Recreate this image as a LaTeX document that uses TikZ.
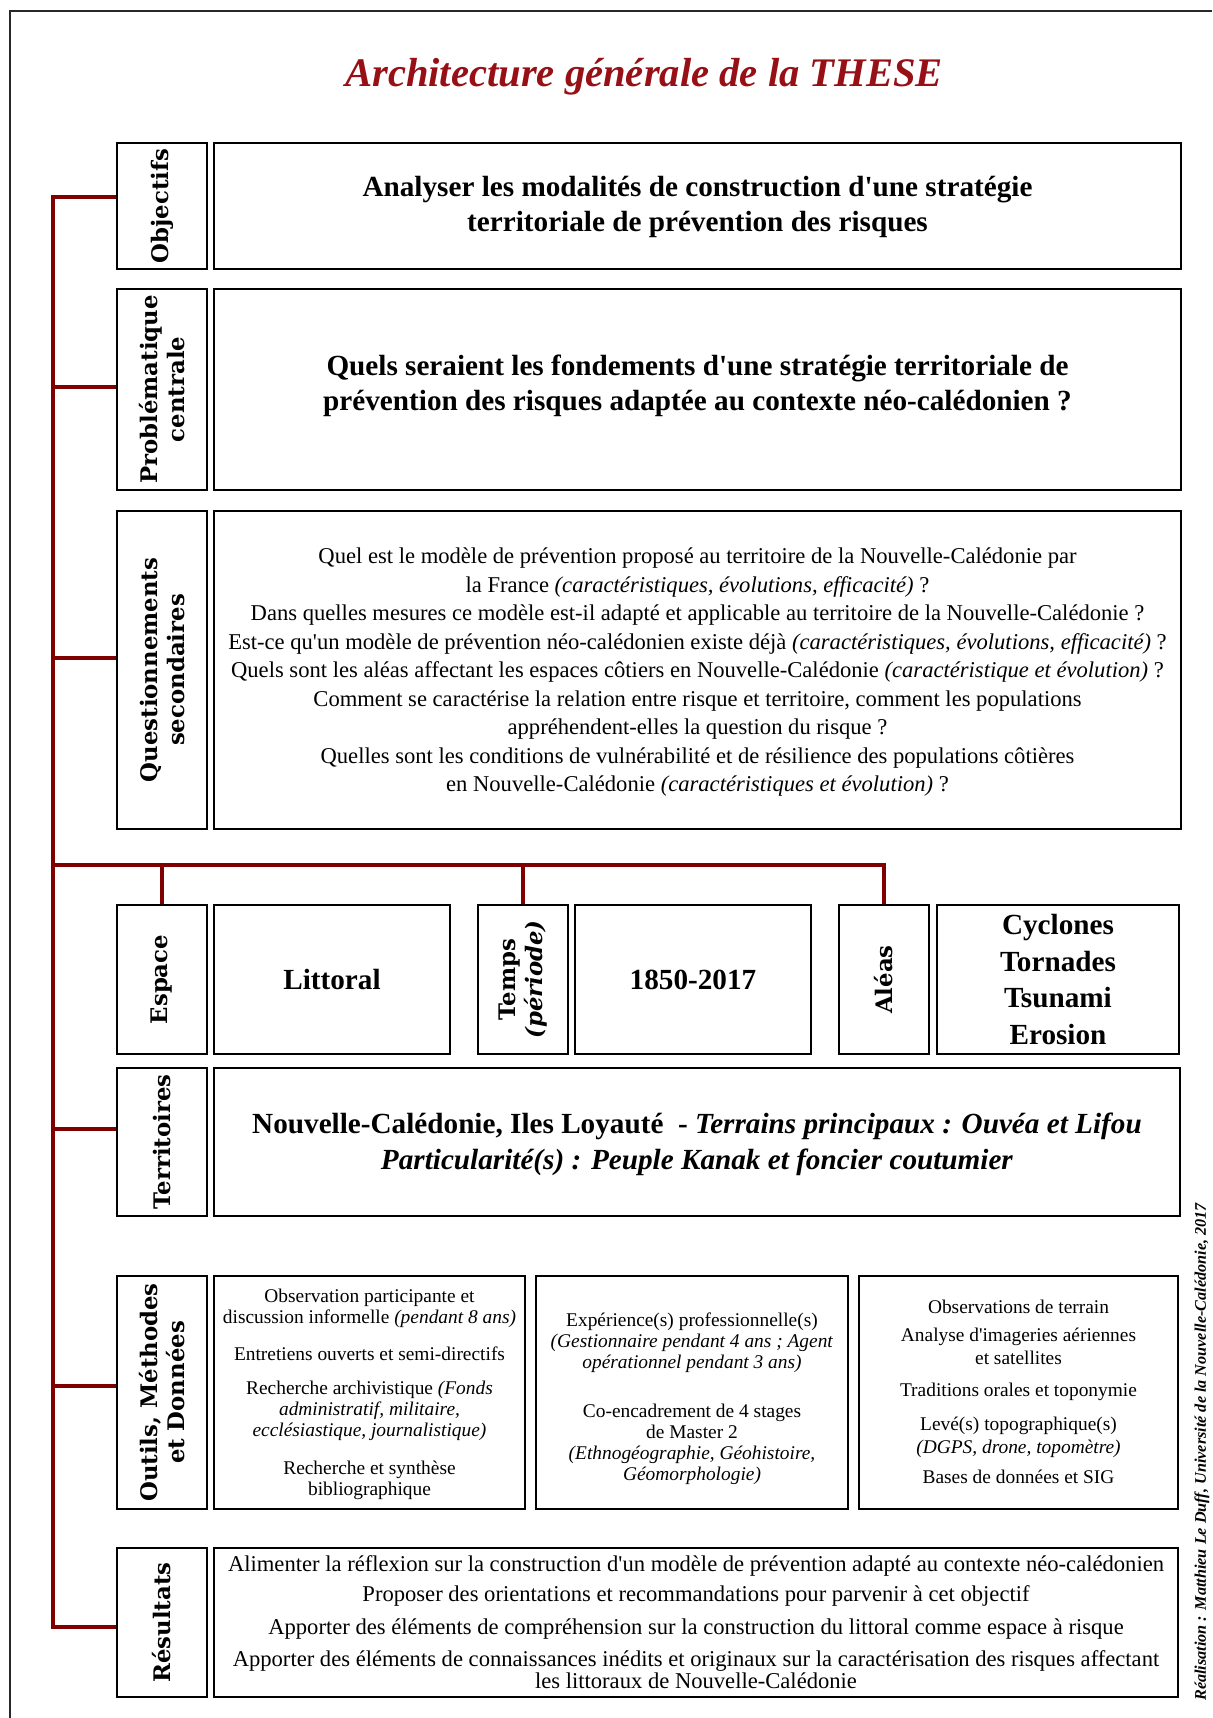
\documentclass[tikz,border=0pt]{standalone}
\usepackage{fontspec}
\setmainfont{Liberation Serif}[Ligatures=TeXOff]
\newfontfamily\labfont{DejaVu Serif}
\usetikzlibrary{fit}
\definecolor{maroonline}{RGB}{128,0,0}
\definecolor{titlered}{RGB}{150,16,22}
\definecolor{framegray}{RGB}{40,40,40}
\begin{document}
\begin{tikzpicture}[x=0.5pt,y=-0.5pt,
  box/.style={draw=black, line width=1.15pt, inner sep=0pt},
  txt/.style={align=center, inner sep=0pt},
  lab/.style={rotate=90, font=\labfont\bfseries\fontsize{11.4}{13.5}\selectfont, align=center, inner sep=0pt},
  conn/.style={draw=maroonline, line width=2pt},
  bigb/.style={font=\bfseries\fontsize{14.6}{17.5}\selectfont},
]
\useasboundingbox (0,0) rectangle (1212,1718);
\draw[framegray, line width=1pt] (10,1718) -- (10,11) -- (1212,11);

\node[anchor=base, text=titlered, font=\bfseries\itshape\fontsize{20.3}{24}\selectfont] (title) at (644,87) {Architecture générale de la THESE};

% Objectifs
\node[box, fit={(117,143) (207,269)}] (lObj) {};
\node[lab] (tObj) at (lObj.center) {Objectifs};
\node[box, fit={(214,143) (1181,269)}] (mObj) {};
\node[txt, bigb, yshift=-0.55pt] (xObj) at (mObj.center) {Analyser les modalités de construction d'une stratégie\\territoriale de prévention des risques};

% Problematique
\node[box, fit={(117,289) (207,490)}] (lPro) {};
\node[lab] (tPro) at (lPro.center) {Problématique\\centrale};
\node[box, fit={(214,289) (1181,490)}] (mPro) {};
\node[txt, bigb, yshift=1.9pt] (xPro) at (mPro.center) {Quels seraient les fondements d'une stratégie territoriale de\\prévention des risques adaptée au contexte néo-calédonien ?};

% Questionnements
\node[box, fit={(117,511) (207,829)}] (lQue) {};
\node[lab] (tQue) at (lQue.center) {Questionnements\\secondaires};
\node[box, fit={(214,511) (1181,829)}] (mQue) {};
\node[txt, font=\fontsize{11.3}{14.25}\selectfont, yshift=-1.1pt] (xQue) at (mQue.center) {Quel est le modèle de prévention proposé au territoire de la Nouvelle-Calédonie par\\
la France \textit{(caractéristiques, évolutions, efficacité)} ?\\
Dans quelles mesures ce modèle est-il adapté et applicable au territoire de la Nouvelle-Calédonie ?\\
Est-ce qu'un modèle de prévention néo-calédonien existe déjà \textit{(caractéristiques, évolutions, efficacité)} ?\\
Quels sont les aléas affectant les espaces côtiers en Nouvelle-Calédonie \textit{(caractéristique et évolution)} ?\\
Comment se caractérise la relation entre risque et territoire, comment les populations\\
appréhendent-elles la question du risque ?\\
Quelles sont les conditions de vulnérabilité et de résilience des populations côtières\\
en Nouvelle-Calédonie \textit{(caractéristiques et évolution)} ?};

% Middle row
\node[box, fit={(117,905) (207,1054)}] (lEsp) {};
\node[lab] (tEsp) at (lEsp.center) {Espace};
\node[box, fit={(214,905) (450,1054)}] (mEsp) {};
\node[txt, bigb] (xEsp) at (mEsp.center) {Littoral};
\node[box, fit={(478,905) (568,1054)}] (lTem) {};
\node[lab] (tTem) at (lTem.center) {Temps\\\textit{(période)}};
\node[box, fit={(575,905) (811,1054)}] (mTem) {};
\node[txt, bigb] (xTem) at (mTem.center) {1850-2017};
\node[box, fit={(839,905) (929,1054)}] (lAle) {};
\node[lab] (tAle) at (lAle.center) {Aléas};
\node[box, fit={(937,905) (1179,1054)}] (mAle) {};
\node[txt, font=\bfseries\fontsize{14.6}{18.25}\selectfont] (xAle) at (mAle.center) {Cyclones\\Tornades\\Tsunami\\Erosion};

% Territoires
\node[box, fit={(117,1068) (207,1216)}] (lTer) {};
\node[lab] (tTer) at (lTer.center) {Territoires};
\node[box, fit={(214,1068) (1180,1216)}] (mTer) {};
\node[txt, font=\bfseries\fontsize{14.6}{18}\selectfont, yshift=-1.1pt] (xTer) at (mTer.center) {Nouvelle-Calédonie, Iles Loyauté\ \ - \textit{Terrains principaux : Ouvéa et Lifou}\\\textit{Particularité(s) : Peuple Kanak et foncier coutumier}};

% Outils
\node[box, fit={(117,1276) (207,1509)}] (lOut) {};
\node[lab] (tOut) at (lOut.center) {Outils, Méthodes\\et Données};
\node[box, fit={(214,1276) (525,1509)}] (o1) {};
\node[txt, font=\fontsize{9.7}{10.5}\selectfont, yshift=-0.85pt] (xo1) at (o1.center) {Observation participante et\\discussion informelle \textit{(pendant 8 ans)}\\[8pt]
Entretiens ouverts et semi-directifs\\[6.5pt]
Recherche archivistique \textit{(Fonds}\\\textit{administratif, militaire,}\\\textit{ecclésiastique, journalistique)}\\[8.5pt]
Recherche et synthèse\\bibliographique};
\node[box, fit={(536,1276) (848,1509)}] (o2) {};
\node[txt, font=\fontsize{9.7}{10.5}\selectfont, yshift=-3.2pt] (xo2) at (o2.center) {Expérience(s) professionnelle(s)\\\textit{(Gestionnaire pendant 4 ans ; Agent}\\\textit{opérationnel pendant 3 ans)}\\[14pt]
Co-encadrement de 4 stages\\de Master 2\\\textit{(Ethnogéographie, Géohistoire,}\\\textit{Géomorphologie)}};
\node[box, fit={(859,1276) (1178,1509)}] (o3) {};
\node[txt, font=\fontsize{9.7}{11.5}\selectfont, yshift=0.55pt] (xo3) at (o3.center) {Observations de terrain\\[2.5pt]
Analyse d'imageries aériennes\\et satellites\\[4.5pt]
Traditions orales et toponymie\\[5.5pt]
Levé(s) topographique(s)\\\textit{(DGPS, drone, topomètre)}\\[3.5pt]
Bases de données et SIG};

% Resultats
\node[box, fit={(117,1548) (207,1697)}] (lRes) {};
\node[lab] (tRes) at (lRes.center) {Résultats};
\node[box, fit={(214,1548) (1178,1697)}] (mRes) {};
\node[txt, font=\fontsize{11.3}{11}\selectfont] (xRes) at (mRes.center) {Alimenter la réflexion sur la construction d'un modèle de prévention adapté au contexte néo-calédonien\\[4pt]
Proposer des orientations et recommandations pour parvenir à cet objectif\\[5.25pt]
Apporter des éléments de compréhension sur la construction du littoral comme espace à risque\\[5.25pt]
Apporter des éléments de connaissances inédits et originaux sur la caractérisation des risques affectant\\les littoraux de Nouvelle-Calédonie};

% credit
\node[rotate=90, inner sep=0pt, font=\bfseries\itshape\fontsize{8.1}{9}\selectfont] (credit) at (1202,1452) {Réalisation : Matthieu Le Duff, Université de la Nouvelle-Calédonie, 2017};

% connectors
\coordinate (b1) at (53,196.7);
\coordinate (b2) at (53,386.7);
\coordinate (b3) at (53,658);
\coordinate (bm) at (53,865);
\coordinate (b4) at (53,1129);
\coordinate (b5) at (53,1386);
\coordinate (b6) at (53,1627);
\draw[conn] (b1 -| lObj.west) -- (b1) -- (b6) -- (b6 -| lRes.west);
\draw[conn] (b2) -- (b2 -| lPro.west);
\draw[conn] (b3) -- (b3 -| lQue.west);
\draw[conn] (b4) -- (b4 -| lTer.west);
\draw[conn] (b5) -- (b5 -| lOut.west);
\draw[conn] (bm) -- (bm -| lAle.north) -- (lAle.north);
\draw[conn] (bm -| lEsp.north) -- (lEsp.north);
\draw[conn] (bm -| lTem.north) -- (lTem.north);
\end{tikzpicture}
\end{document}
